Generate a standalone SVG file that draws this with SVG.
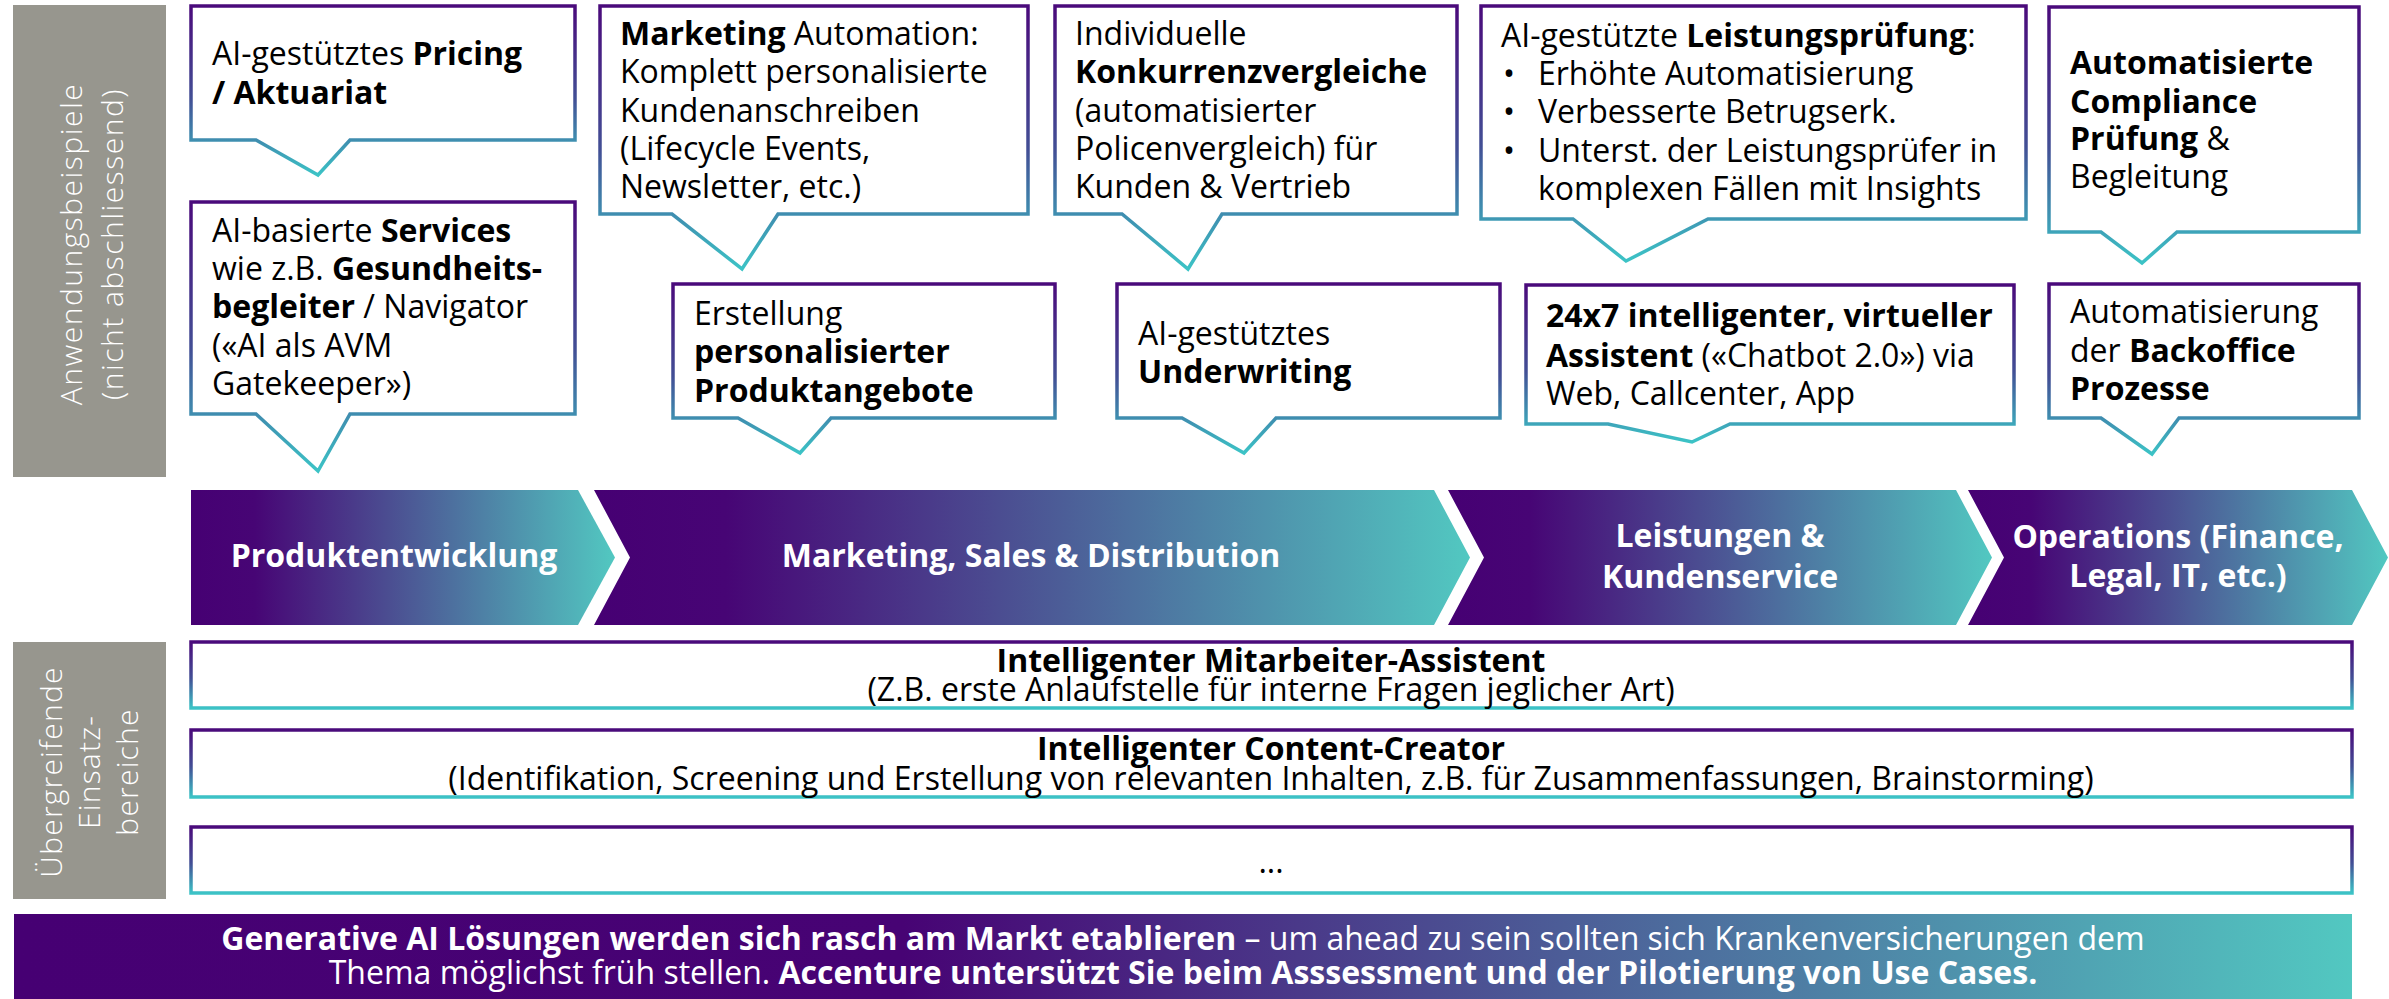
<svg xmlns="http://www.w3.org/2000/svg" width="2389" height="999" viewBox="0 0 2389 999">
  <defs>
    <!-- vertical purple-to-teal edge for callouts and strips -->
    <linearGradient id="edge" x1="0" y1="0" x2="0" y2="1">
      <stop offset="0" stop-color="#4a0a7b"/>
      <stop offset="0.55" stop-color="#424f95"/>
      <stop offset="1" stop-color="#3cc3c6"/>
    </linearGradient>
    <!-- horizontal fill for the process chevrons -->
    <linearGradient id="chev" x1="0" y1="0" x2="1" y2="0">
      <stop offset="0" stop-color="#460073"/>
      <stop offset="0.15" stop-color="#470575"/>
      <stop offset="1" stop-color="#52c8c1"/>
    </linearGradient>
    <!-- horizontal fill for the closing banner -->
    <linearGradient id="band" x1="0" y1="0" x2="1" y2="0">
      <stop offset="0" stop-color="#460073"/>
      <stop offset="0.38" stop-color="#470374"/>
      <stop offset="1" stop-color="#52c8c1"/>
    </linearGradient>
  </defs>
  <style>
    .side { fill: #97968e; }
    .side-t { font-family: "Open Sans", "DejaVu Sans", sans-serif; font-weight: 300; fill: #ffffff; text-anchor: middle; }
    .call { fill: #ffffff; stroke: url(#edge); stroke-width: 3.5; stroke-linejoin: miter; }
    .strip { fill: #ffffff; stroke: url(#edge); stroke-width: 3.5; }
    .t { font-family: "Open Sans", "Liberation Sans", sans-serif; font-size: 32px; fill: #000000; }
    .b { font-weight: 700; }
    .chev { fill: url(#chev); }
    .ct { font-family: "Open Sans", "Liberation Sans", sans-serif; font-size: 32px; font-weight: 700; fill: #ffffff; text-anchor: middle; }
    .st { font-family: "Open Sans", "Liberation Sans", sans-serif; font-size: 32px; fill: #000000; text-anchor: middle; }
    .bt { font-family: "Open Sans", "Liberation Sans", sans-serif; font-size: 32px; fill: #ffffff; text-anchor: middle; }
  </style>

  <rect width="2389" height="999" fill="#ffffff"/>

  <!-- side label: use cases -->
  <g id="label-anwendung">
    <rect class="side" x="13" y="5" width="153" height="472"/>
    <g transform="translate(0,244) rotate(-90)">
      <text class="side-t" x="0" y="82" font-size="30" letter-spacing="1.5">Anwendungsbeispiele</text>
      <text class="side-t" x="0" y="123" font-size="30" letter-spacing="1.5">(nicht abschliessend)</text>
    </g>
  </g>

  <!-- callouts, column 1 -->
  <g id="pricing">
    <path class="call" d="M191,6 H575 V140 H350 L318,175 L256,140 H191 Z"/>
    <text class="t" x="212" y="65">AI-gestütztes <tspan class="b">Pricing</tspan></text>
    <text class="t b" x="212" y="104">/ Aktuariat</text>
  </g>
  <g id="services">
    <path class="call" d="M191,202 H575 V414 H350 L318,471 L256,414 H191 Z"/>
    <text class="t" x="212" y="242">AI-basierte <tspan class="b">Services</tspan></text>
    <text class="t" x="212" y="280">wie z.B. <tspan class="b">Gesundheits-</tspan></text>
    <text class="t" x="212" y="318"><tspan class="b">begleiter</tspan> / Navigator</text>
    <text class="t" x="212" y="357">(«AI als AVM</text>
    <text class="t" x="212" y="395">Gatekeeper»)</text>
  </g>

  <!-- callouts, column 2 -->
  <g id="marketing-automation">
    <path class="call" d="M600,6 H1028 V214 H778 L742,269 L672,214 H600 Z"/>
    <text class="t" x="620" y="45"><tspan class="b">Marketing</tspan> Automation:</text>
    <text class="t" x="620" y="83">Komplett personalisierte</text>
    <text class="t" x="620" y="122">Kundenanschreiben</text>
    <text class="t" x="620" y="160">(Lifecycle Events,</text>
    <text class="t" x="620" y="198">Newsletter, etc.)</text>
  </g>
  <g id="produktangebote">
    <path class="call" d="M673,284 H1055 V418 H831 L800,453 L738,418 H673 Z"/>
    <text class="t" x="694" y="325">Erstellung</text>
    <text class="t b" x="694" y="363">personalisierter</text>
    <text class="t b" x="694" y="402">Produktangebote</text>
  </g>

  <!-- callouts, column 3 -->
  <g id="konkurrenzvergleiche">
    <path class="call" d="M1055,6 H1457 V214 H1222 L1188,269 L1122,214 H1055 Z"/>
    <text class="t" x="1075" y="45">Individuelle</text>
    <text class="t b" x="1075" y="83">Konkurrenzvergleiche</text>
    <text class="t" x="1075" y="122">(automatisierter</text>
    <text class="t" x="1075" y="160">Policenvergleich) für</text>
    <text class="t" x="1075" y="198">Kunden &amp; Vertrieb</text>
  </g>
  <g id="underwriting">
    <path class="call" d="M1117,284 H1500 V418 H1276 L1244,453 L1182,418 H1117 Z"/>
    <text class="t" x="1138" y="345">AI-gestütztes</text>
    <text class="t b" x="1138" y="383">Underwriting</text>
  </g>

  <!-- callouts, column 4 -->
  <g id="leistungspruefung">
    <path class="call" d="M1481,6 H2026 V219 H1708 L1626,261 L1573,219 H1481 Z"/>
    <text class="t" x="1501" y="47">AI-gestützte <tspan class="b">Leistungsprüfung</tspan>:</text>
    <text class="t" x="1503" y="85">•</text>
    <text class="t" x="1538" y="85">Erhöhte Automatisierung</text>
    <text class="t" x="1503" y="123">•</text>
    <text class="t" x="1538" y="123">Verbesserte Betrugserk.</text>
    <text class="t" x="1503" y="162">•</text>
    <text class="t" x="1538" y="162">Unterst. der Leistungsprüfer in</text>
    <text class="t" x="1538" y="200">komplexen Fällen mit Insights</text>
  </g>
  <g id="chatbot">
    <path class="call" d="M1526,285 H2014 V424 H1730 L1692,442 L1608,424 H1526 Z"/>
    <text class="t b" x="1546" y="327">24x7 intelligenter, virtueller</text>
    <text class="t" x="1546" y="367"><tspan class="b">Assistent</tspan> («Chatbot 2.0») via</text>
    <text class="t" x="1546" y="405">Web, Callcenter, App</text>
  </g>

  <!-- callouts, column 5 -->
  <g id="compliance">
    <path class="call" d="M2049,7 H2359 V232 H2177 L2142,263 L2101,232 H2049 Z"/>
    <text class="t b" x="2070" y="74">Automatisierte</text>
    <text class="t b" x="2070" y="113">Compliance</text>
    <text class="t" x="2070" y="150"><tspan class="b">Prüfung</tspan> &amp;</text>
    <text class="t" x="2070" y="188">Begleitung</text>
  </g>
  <g id="backoffice">
    <path class="call" d="M2049,284 H2359 V418 H2179 L2152,454 L2101,418 H2049 Z"/>
    <text class="t" x="2070" y="323">Automatisierung</text>
    <text class="t" x="2070" y="362">der <tspan class="b">Backoffice</tspan></text>
    <text class="t b" x="2070" y="400">Prozesse</text>
  </g>

  <!-- value chain chevrons -->
  <g id="step-produktentwicklung">
    <path class="chev" d="M191,490 H578 L615,557.5 L578,625 H191 Z"/>
    <text class="ct" x="394" y="567">Produktentwicklung</text>
  </g>
  <g id="step-marketing">
    <path class="chev" d="M594,490 H1434 L1470,557.5 L1434,625 H594 L630,557.5 Z"/>
    <text class="ct" x="1031" y="567">Marketing, Sales &amp; Distribution</text>
  </g>
  <g id="step-leistungen">
    <path class="chev" d="M1448,490 H1956 L1992,557.5 L1956,625 H1448 L1484,557.5 Z"/>
    <text class="ct" x="1720" y="547">Leistungen &amp;</text>
    <text class="ct" x="1720" y="588">Kundenservice</text>
  </g>
  <g id="step-operations">
    <path class="chev" d="M1968,490 H2352 L2388,557.5 L2352,625 H1968 L2004,557.5 Z"/>
    <text class="ct" x="2178" y="548">Operations (Finance,</text>
    <text class="ct" x="2178" y="587">Legal, IT, etc.)</text>
  </g>

  <!-- side label: cross-cutting areas -->
  <g id="label-uebergreifend">
    <rect class="side" x="13" y="642" width="153" height="257"/>
    <g transform="translate(0,772) rotate(-90)">
      <text class="side-t" x="0" y="62" font-size="30" letter-spacing="1.2">Übergreifende</text>
      <text class="side-t" x="0" y="100" font-size="30" letter-spacing="1.2">Einsatz-</text>
      <text class="side-t" x="0" y="138" font-size="30" letter-spacing="1.2">bereiche</text>
    </g>
  </g>

  <!-- cross-cutting strips -->
  <g id="mitarbeiter-assistent">
    <rect class="strip" x="191" y="642" width="2161" height="66"/>
    <text class="st b" x="1271" y="672">Intelligenter Mitarbeiter-Assistent</text>
    <text class="st" x="1271" y="701">(Z.B. erste Anlaufstelle für interne Fragen jeglicher Art)</text>
  </g>
  <g id="content-creator">
    <rect class="strip" x="191" y="730" width="2161" height="67"/>
    <text class="st b" x="1271" y="760">Intelligenter Content-Creator</text>
    <text class="st" x="1271" y="790">(Identifikation, Screening und Erstellung von relevanten Inhalten, z.B. für Zusammenfassungen, Brainstorming)</text>
  </g>
  <g id="weitere">
    <rect class="strip" x="191" y="827" width="2161" height="66"/>
    <text class="st" x="1271" y="873">...</text>
  </g>

  <!-- closing banner -->
  <g id="fazit">
    <rect x="14" y="914" width="2338" height="85" fill="url(#band)"/>
    <text class="bt" x="1183" y="950"><tspan class="b">Generative AI Lösungen werden sich rasch am Markt etablieren</tspan> – um ahead zu sein sollten sich Krankenversicherungen dem</text>
    <text class="bt" x="1183" y="984">Thema möglichst früh stellen. <tspan class="b">Accenture untersützt Sie beim Asssessment und der Pilotierung von Use Cases.</tspan></text>
  </g>
</svg>
